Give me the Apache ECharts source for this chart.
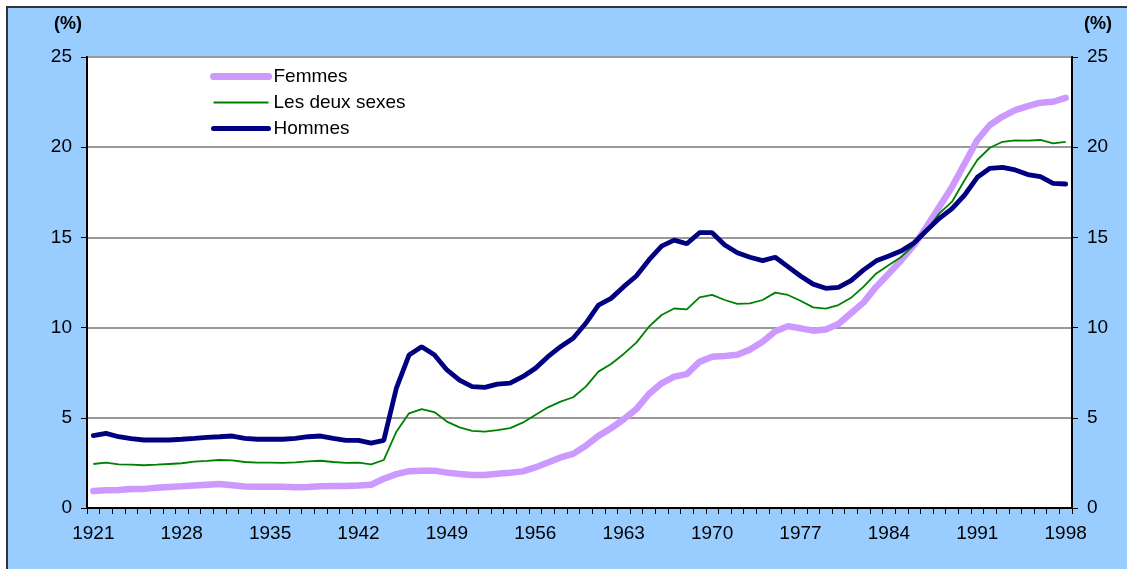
<!DOCTYPE html>
<html>
<head>
<meta charset="utf-8">
<script src="https://cdn.jsdelivr.net/npm/echarts@6/dist/echarts.min.js"></script>
<style>
  body { margin: 0; background: #fff; }
  #frame { position: absolute; left: 6px; top: 6px; width: 1121px; height: 563px; background: #99CCFF; border-left: 2px solid #333; border-top: 2px solid #333; }
  #chart { position: absolute; left: 0; top: 0; width: 1127px; height: 569px; }
</style>
</head>
<body>
<div id="frame"></div>
<div id="chart"></div>
<script>
var years = [];
for (var y = 1921; y <= 1998; y++) years.push(String(y));

var femmes = [
  0.94, 0.98, 1.0, 1.05, 1.06, 1.12, 1.16, 1.2, 1.25, 1.29,
  1.33, 1.26, 1.19, 1.18, 1.18, 1.18, 1.15, 1.17, 1.21, 1.22,
  1.22, 1.25, 1.29, 1.62, 1.88, 2.04, 2.07, 2.07, 1.96, 1.88,
  1.83, 1.83, 1.9, 1.96, 2.03, 2.25, 2.52, 2.8, 3.0, 3.45,
  4.0, 4.42, 4.92, 5.48, 6.32, 6.91, 7.28, 7.42, 8.1, 8.39,
  8.43, 8.5, 8.78, 9.22, 9.8, 10.08, 9.96, 9.83, 9.9, 10.2,
  10.8, 11.4, 12.27, 13.0, 13.75, 14.58, 15.6, 16.7, 17.8, 19.1,
  20.4, 21.23, 21.7, 22.06, 22.28, 22.47, 22.52, 22.73
];

var deuxSexes = [
  2.44, 2.51, 2.42, 2.4, 2.37, 2.4, 2.44, 2.48, 2.57, 2.61,
  2.66, 2.64, 2.55, 2.51, 2.51, 2.5, 2.53, 2.59, 2.62, 2.55,
  2.5, 2.51, 2.42, 2.66, 4.23, 5.25, 5.48, 5.32, 4.79, 4.47,
  4.28, 4.23, 4.32, 4.43, 4.73, 5.16, 5.58, 5.9, 6.14, 6.73,
  7.56, 7.98, 8.54, 9.17, 10.05, 10.7, 11.06, 11.01, 11.68, 11.81,
  11.53, 11.31, 11.34, 11.53, 11.94, 11.81, 11.49, 11.12, 11.05, 11.25,
  11.65, 12.27, 13.0, 13.47, 13.93, 14.58, 15.4, 16.33, 16.98, 18.18,
  19.29, 19.97, 20.3, 20.38, 20.36, 20.4, 20.21, 20.3
];

var hommes = [
  4.01, 4.14, 3.95, 3.84, 3.77, 3.77, 3.77, 3.81, 3.86, 3.92,
  3.95, 3.99, 3.86, 3.81, 3.81, 3.81, 3.86, 3.95, 3.99, 3.86,
  3.75, 3.75, 3.6, 3.75, 6.65, 8.48, 8.94, 8.5, 7.65, 7.09,
  6.73, 6.69, 6.87, 6.92, 7.28, 7.74, 8.39, 8.94, 9.41, 10.24,
  11.25, 11.62, 12.27, 12.86, 13.75, 14.52, 14.85, 14.65, 15.26, 15.26,
  14.58, 14.15, 13.9, 13.71, 13.9, 13.38, 12.86, 12.41, 12.18, 12.23,
  12.6, 13.2, 13.7, 13.97, 14.26, 14.7, 15.4, 16.06, 16.6, 17.35,
  18.33, 18.83, 18.88, 18.74, 18.48, 18.37, 18.0, 17.96
];

var font = 'Arial, "Liberation Sans", sans-serif';

var valueAxis = function (pos, grid) {
  return {
    type: 'value',
    position: pos,
    min: 0,
    max: 25,
    interval: 5,
    axisLine: { show: true, lineStyle: { color: '#000', width: 2 } },
    axisTick: { show: true, length: 6, lineStyle: { color: '#000', width: 1 } },
    axisLabel: { color: '#000', fontSize: 19, fontFamily: font, margin: 15 },
    splitLine: { show: grid, lineStyle: { color: '#999', width: 2 } }
  };
};

var myChart = echarts.init(document.getElementById('chart'));
myChart.setOption({
  backgroundColor: 'transparent',
  animation: false,
  grid: {
    left: 87, right: 55, top: 57, bottom: 61,
    show: true, backgroundColor: '#fff', borderColor: '#000', borderWidth: 2
  },
  graphic: [
    { type: 'text', left: 54, top: 15, style: { text: '(%)', font: 'bold 18px ' + font, fill: '#000' } },
    { type: 'text', left: 1084, top: 15, style: { text: '(%)', font: 'bold 18px ' + font, fill: '#000' } }
  ],
  legend: {
    orient: 'vertical',
    left: 210,
    top: 67,
    padding: 0,
    itemWidth: 55,
    itemHeight: 12,
    itemGap: 7,
    itemStyle: { opacity: 0 },
    textStyle: { color: '#000', fontSize: 19, fontFamily: font },
    data: [
      { name: 'Femmes', lineStyle: { width: 7 } },
      { name: 'Les deux sexes', lineStyle: { width: 2 } },
      { name: 'Hommes', lineStyle: { width: 5 } }
    ]
  },
  xAxis: {
    type: 'category',
    data: years,
    boundaryGap: true,
    axisLine: { lineStyle: { color: '#000', width: 2 } },
    axisTick: { show: true, interval: 0, length: 6, lineStyle: { color: '#000' } },
    axisLabel: { interval: 6, color: '#000', fontSize: 19, fontFamily: font, margin: 16 }
  },
  yAxis: [valueAxis('left', true), valueAxis('right', false)],
  series: [
    {
      name: 'Femmes', type: 'line', data: femmes, symbol: 'none',
      color: '#CC99FF', lineStyle: { color: '#CC99FF', width: 6.5, cap: 'round' }
    },
    {
      name: 'Les deux sexes', type: 'line', data: deuxSexes, symbol: 'none',
      color: '#008000', lineStyle: { color: '#008000', width: 1.8 }
    },
    {
      name: 'Hommes', type: 'line', data: hommes, symbol: 'none',
      color: '#000080', lineStyle: { color: '#000080', width: 4.8, cap: 'round' }
    }
  ]
});
</script>
</body>
</html>
